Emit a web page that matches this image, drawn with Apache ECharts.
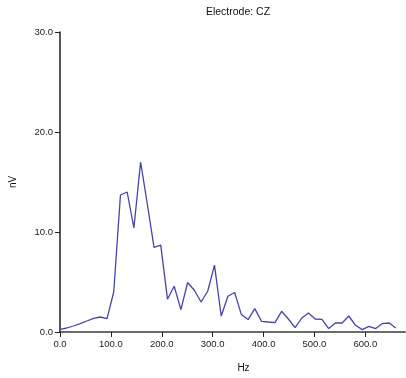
<!DOCTYPE html>
<html>
<head>
<meta charset="utf-8">
<style>
  html, body { margin: 0; padding: 0; background: #fff; }
  #chart { width: 406px; height: 378px; }
</style>
<script src="https://cdn.jsdelivr.net/npm/echarts@6/dist/echarts.min.js"></script>
</head>
<body>
<div id="chart"></div>
<script>
// Spectrum at electrode CZ: frequency bins (Hz) and amplitude (nV)
const freqHz = [
  0, 13.2, 26.4, 39.6, 52.8, 66, 79.2, 92.4, 105.6, 118.8,
  132, 145.2, 158.4, 171.6, 184.8, 198, 211.2, 224.4, 237.6, 250.8,
  264, 277.2, 290.4, 303.6, 316.8, 330, 343.2, 356.4, 369.6, 382.8,
  396, 409.2, 422.4, 435.6, 448.8, 462, 475.2, 488.4, 501.6, 514.8,
  528, 541.2, 554.4, 567.6, 580.8, 594, 607.2, 620.4, 633.6, 646.8, 660
];
const amplitudeNv = [
  0.27, 0.4, 0.6, 0.84, 1.1, 1.37, 1.5, 1.34, 4.0, 13.7,
  14.0, 10.4, 17.0, 12.8, 8.46, 8.69, 3.28, 4.58, 2.24, 4.95,
  4.18, 3.0, 4.1, 6.68, 1.6, 3.58, 3.95, 1.74, 1.24, 2.34,
  1.07, 1.0, 0.94, 2.07, 1.3, 0.44, 1.4, 1.9, 1.3, 1.27,
  0.34, 0.9, 0.9, 1.6, 0.67, 0.24, 0.57, 0.34, 0.84, 0.9, 0.4
];
const chartTitle = 'Electrode: CZ';
const xAxisName = 'Hz';
const yAxisName = 'nV';

const seriesData = freqHz.map((f, i) => [f, amplitudeNv[i]]);
const font = 'Liberation Sans, Arial, sans-serif';

const chart = echarts.init(document.getElementById('chart'), null, { renderer: 'canvas' });
chart.setOption({
  animation: false,
  backgroundColor: '#ffffff',
  title: {
    text: chartTitle,
    left: 233,
    textAlign: 'center',
    top: 2,
    textStyle: { fontFamily: font, fontSize: 10.5, fontWeight: 'normal', color: '#111' }
  },
  grid: { left: 60, right: 1, top: 32, bottom: 46 },
  xAxis: {
    type: 'value',
    min: 0,
    max: 678,
    interval: 100,
    name: xAxisName,
    nameLocation: 'middle',
    nameGap: 31,
    nameTextStyle: { fontFamily: font, fontSize: 10, color: '#111', padding: [0, 0, 0, 22] },
    splitLine: { show: false },
    axisLine: { lineStyle: { color: '#3a3a3a', width: 1.7 } },
    axisTick: { length: 5, lineStyle: { color: '#222', width: 1 } },
    axisLabel: {
      fontFamily: font, fontSize: 9.5, color: '#222', margin: 7,
      showMaxLabel: false,
      formatter: v => v.toFixed(1)
    }
  },
  yAxis: {
    type: 'value',
    min: 0,
    max: 30,
    interval: 10,
    name: yAxisName,
    nameLocation: 'middle',
    nameGap: 42,
    nameTextStyle: { fontFamily: font, fontSize: 10, color: '#111' },
    splitLine: { show: false },
    axisLine: { show: true, lineStyle: { color: '#3a3a3a', width: 1.7 } },
    axisTick: { show: true, length: 5, lineStyle: { color: '#222', width: 1 } },
    axisLabel: {
      fontFamily: font, fontSize: 9.5, color: '#222', margin: 7,
      formatter: v => v.toFixed(1)
    }
  },
  series: [{
    type: 'line',
    data: seriesData,
    showSymbol: false,
    symbol: 'none',
    lineStyle: { color: '#4444aa', width: 1.3 }
  }]
});
</script>
</body>
</html>
